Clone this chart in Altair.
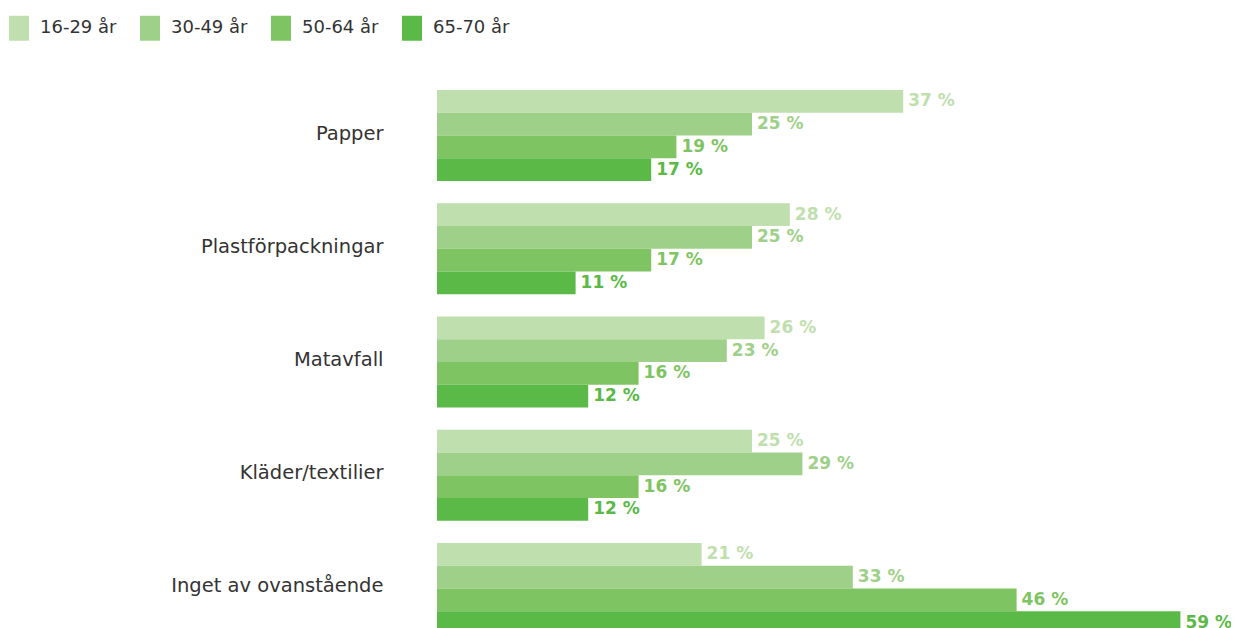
import altair as alt
import pandas as pd

categories = ["Papper", "Plastförpackningar", "Matavfall", "Kläder/textilier", "Inget av ovanstående"]
groups = ["16-29 år", "30-49 år", "50-64 år", "65-70 år"]
v16_29 = [37, 28, 26, 25, 21]
v30_49 = [25, 25, 23, 29, 33]
v50_64 = [19, 17, 16, 16, 46]
v65_70 = [17, 11, 12, 12, 59]
colors = ["#C0DFAE", "#9FD089", "#7FC463", "#5AB947"]

series = [v16_29, v30_49, v50_64, v65_70]
rows = []
for g, vals in zip(groups, series):
    for c, v in zip(categories, vals):
        rows.append({"category": c, "group": g, "value": v, "label": f"{v} %"})
df = pd.DataFrame(rows)

base = alt.Chart(df).encode(
    y=alt.Y(
        "category:N",
        sort=categories,
        scale=alt.Scale(paddingInner=0.196, paddingOuter=0),
        axis=alt.Axis(
            title=None, ticks=False, domain=False, labelPadding=54,
            labelFontSize=19.5, labelColor="#333333", labelFont="DejaVu Sans",
            labelLimit=400, labelOffset=-2,
        ),
    ),
    yOffset=alt.YOffset("group:N", sort=groups, scale=alt.Scale(paddingInner=0, paddingOuter=0)),
    x=alt.X("value:Q", scale=alt.Scale(domain=[0, 60]), axis=None),
    color=alt.Color(
        "group:N",
        sort=groups,
        scale=alt.Scale(domain=groups, range=colors),
        legend=alt.Legend(
            title=None, orient="none", legendX=-428, legendY=-72,
            direction="horizontal", columns=4,
            symbolType="M-1,-1.25H1V1.25H-1Z", symbolSize=400,
            symbolStrokeWidth=0, symbolOpacity=1,
            labelFontSize=18, labelFont="DejaVu Sans", labelColor="#333333",
            labelOffset=11, columnPadding=23, padding=0, gridAlign="all",
        ),
    ),
)

bars = base.mark_bar(opacity=1)
text = base.mark_text(
    align="left", baseline="middle", dx=5,
    font="DejaVu Sans", fontWeight="bold", fontSize=17,
).encode(text="label:N")

chart = (
    alt.layer(bars, text)
    .properties(
        width=756, height=544,
        autosize=alt.AutoSizeParams(type="none"),
        padding={"left": 429, "top": 82, "right": 38, "bottom": 0},
        background="white",
    )
    .configure_view(stroke=None)
)

chart.save("out.html", embed_options={"renderer": "svg", "actions": False})
